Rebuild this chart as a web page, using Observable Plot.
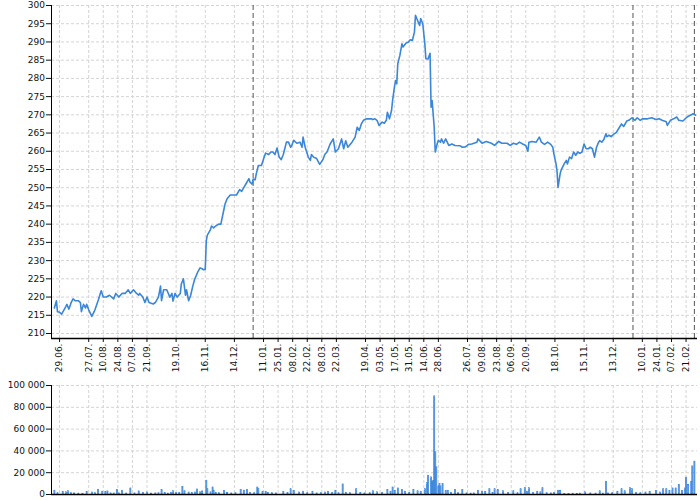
<!DOCTYPE html>
<html><head><meta charset="utf-8">
<script src="https://cdn.jsdelivr.net/npm/d3@7"></script>
<script src="https://cdn.jsdelivr.net/npm/@observablehq/plot@0.6"></script>
<style>
body{margin:0;background:#fff;}
#chart{width:700px;height:500px;position:relative;overflow:hidden;}
svg{display:block;}
</style></head><body><div id="chart"></div>
<script>
const priceDates = [
"2020-06-24","2020-06-26","2020-06-27","2020-06-29","2020-07-01","2020-07-05","2020-07-06","2020-07-08","2020-07-10","2020-07-12",
"2020-07-14","2020-07-17","2020-07-19","2020-07-20","2020-07-22","2020-07-24","2020-07-25","2020-07-27","2020-07-30","2020-08-02",
"2020-08-05","2020-08-08","2020-08-10","2020-08-13","2020-08-16","2020-08-20","2020-08-22","2020-08-25","2020-08-28","2020-08-31",
"2020-09-03","2020-09-05","2020-09-08","2020-09-11","2020-09-13","2020-09-14","2020-09-17","2020-09-19","2020-09-21","2020-09-23",
"2020-09-27","2020-09-29","2020-10-02","2020-10-04","2020-10-05","2020-10-07","2020-10-10","2020-10-13","2020-10-15","2020-10-16",
"2020-10-18","2020-10-20","2020-10-23","2020-10-24","2020-10-26","2020-10-28","2020-10-29","2020-10-31","2020-11-02","2020-11-04",
"2020-11-06","2020-11-09","2020-11-11","2020-11-13","2020-11-14","2020-11-16","2020-11-17","2020-11-18","2020-11-21","2020-11-22",
"2020-11-24","2020-11-26","2020-11-29","2020-12-01","2020-12-03","2020-12-05","2020-12-07","2020-12-10","2020-12-13","2020-12-16",
"2020-12-19","2020-12-21","2020-12-23","2020-12-26","2020-12-28","2020-12-29","2020-12-31",
"2021-01-01","2021-01-03","2021-01-04","2021-01-06","2021-01-09","2021-01-11","2021-01-13","2021-01-16","2021-01-18","2021-01-20",
"2021-01-22","2021-01-24","2021-01-26","2021-01-28","2021-01-30","2021-02-02","2021-02-04","2021-02-06","2021-02-07","2021-02-09",
"2021-02-12","2021-02-15","2021-02-17","2021-02-18","2021-02-20","2021-02-23","2021-02-25","2021-02-26","2021-02-28","2021-03-03",
"2021-03-06","2021-03-09","2021-03-11","2021-03-13","2021-03-16","2021-03-19","2021-03-21","2021-03-24","2021-03-27","2021-03-29",
"2021-03-31","2021-04-02","2021-04-06","2021-04-09","2021-04-11","2021-04-13","2021-04-15","2021-04-17","2021-04-20","2021-04-25",
"2021-04-26","2021-04-28","2021-04-30","2021-05-02","2021-05-05","2021-05-07","2021-05-09","2021-05-10","2021-05-12","2021-05-14",
"2021-05-15","2021-05-17","2021-05-18","2021-05-19","2021-05-20","2021-05-22","2021-05-24","2021-05-25","2021-05-28","2021-05-30",
"2021-06-01","2021-06-03","2021-06-05","2021-06-06","2021-06-08","2021-06-10","2021-06-11","2021-06-13","2021-06-15","2021-06-16",
"2021-06-18","2021-06-20","2021-06-21","2021-06-22","2021-06-24","2021-06-25","2021-06-27","2021-06-28","2021-06-30","2021-07-01",
"2021-07-03","2021-07-05","2021-07-08","2021-07-11","2021-07-14","2021-07-19","2021-07-21","2021-07-24","2021-07-27","2021-07-30",
"2021-08-04","2021-08-05","2021-08-09","2021-08-13","2021-08-18","2021-08-21","2021-08-25","2021-08-28","2021-09-02","2021-09-05",
"2021-09-08","2021-09-11","2021-09-14","2021-09-17","2021-09-20","2021-09-22","2021-09-23","2021-09-26","2021-09-30","2021-10-03",
"2021-10-05","2021-10-08","2021-10-11","2021-10-14","2021-10-16","2021-10-17","2021-10-19","2021-10-20","2021-10-21","2021-10-23",
"2021-10-24","2021-10-27","2021-10-29","2021-10-30","2021-11-01","2021-11-03","2021-11-05","2021-11-07","2021-11-09","2021-11-11",
"2021-11-13","2021-11-15","2021-11-17","2021-11-19","2021-11-21","2021-11-23","2021-11-25","2021-11-27","2021-11-29","2021-11-30",
"2021-12-02","2021-12-04","2021-12-06","2021-12-07","2021-12-09","2021-12-11","2021-12-14","2021-12-16","2021-12-19","2021-12-21",
"2021-12-23","2021-12-26","2021-12-28","2021-12-31",
"2022-01-03","2022-01-05","2022-01-08","2022-01-10","2022-01-15","2022-01-19","2022-01-23","2022-01-26","2022-01-29","2022-02-02",
"2022-02-03","2022-02-06","2022-02-09","2022-02-12","2022-02-14","2022-02-18","2022-02-22","2022-02-25","2022-02-28","2022-03-02"
];
const priceValues = [
217,219,216,215.8,215.3,217.4,218,216.7,218.4,219.5,
219,219,218.5,216,218,217,218,216.5,214.7,216.5,
219,221.7,220,220,220.5,219.5,221,220,221,221,
222,221,222,221,220.5,221,220,218.5,220,218.5,
218.1,218.5,220,223,219,222,222,220,221,218.9,
221,220,221,223.6,225,220.5,222,219,220.5,223,
225,227,228,227.8,227.5,227.6,235.5,237,238.5,239.5,
239,239.5,240,240,242.8,245.5,247,248,248,248,
249.5,249,250,251.5,252.5,251.5,251,
252.4,252.2,253.8,256.1,256.1,257.9,259.5,259.1,259.8,259.8,
259.1,260.9,258.4,257.7,259.1,262.5,262.5,261.1,261.5,263,
262.2,262.5,261.1,263.9,261.1,258.4,257.5,259.1,258.4,258,
256.4,257.7,259.2,259.8,262,263.4,259.8,260.7,263.4,260.7,
262.9,261.1,262.5,263.9,266.6,265.7,267.5,268.5,268.9,268.9,
268.7,268.9,268.5,267.1,268,267.7,268.5,270.7,268.9,271.2,
273.9,278.1,279.4,278.5,284,286.3,289.5,288.6,289.7,289.9,
290.6,290.4,292.7,297.3,295.9,294.5,296.4,295,289.5,285.4,
285.3,286.9,272.1,273.9,266.6,259.8,262.2,263,262.5,263.4,
262.2,263.4,261.6,262,261.6,261.5,261.1,261.2,261.9,262,
262.5,263.4,262.2,262.7,262.2,261.6,262.7,262.2,262.2,261.6,
262.2,261.9,262.5,262,261.6,260,262.5,262.7,262.5,263.9,
262.5,261.9,262.5,261.9,261.1,259.3,256.6,254.7,250.1,253.8,
254.9,256.6,257.5,256.5,258.4,258,259.8,258.9,259.8,259.4,
259.8,262,260.7,260.7,261.1,260.7,258.4,261.1,262.5,262.9,
262.5,263.2,264.8,264,264.4,264,264.8,265.2,266.6,267.5,
266.8,268.3,268.5,269.2,
268.5,269.2,268.5,268.9,268.9,269.2,268.7,268.9,268.5,268.1,
267.1,268.5,268.9,269.4,268.5,268.3,269.4,269.9,270.3,269.9
];
const volumeDates = [
"2020-06-24","2020-06-27","2020-07-02","2020-07-05","2020-07-07","2020-07-10","2020-07-13","2020-07-17","2020-07-21","2020-07-25",
"2020-07-30","2020-08-02","2020-08-05","2020-08-09","2020-08-12","2020-08-14","2020-08-17","2020-08-20","2020-08-23","2020-08-25",
"2020-08-28","2020-09-01","2020-09-05","2020-09-09","2020-09-13","2020-09-17","2020-09-21","2020-09-25","2020-09-29","2020-10-02",
"2020-10-05","2020-10-08","2020-10-11","2020-10-14","2020-10-16","2020-10-19","2020-10-22","2020-10-25","2020-10-27","2020-10-31",
"2020-11-03","2020-11-06","2020-11-08","2020-11-11","2020-11-13","2020-11-17","2020-11-18","2020-11-21","2020-11-23","2020-11-24",
"2020-11-26","2020-11-29","2020-12-04","2020-12-07","2020-12-11","2020-12-15","2020-12-20","2020-12-23","2020-12-26","2020-12-29",
"2021-01-02","2021-01-05","2021-01-06","2021-01-10","2021-01-13","2021-01-15","2021-01-19","2021-01-23","2021-01-30","2021-02-03",
"2021-02-06","2021-02-09","2021-02-14","2021-02-18","2021-02-22","2021-02-27","2021-03-03","2021-03-07","2021-03-11","2021-03-14",
"2021-03-18","2021-03-21","2021-03-24","2021-03-28","2021-03-31","2021-04-04","2021-04-10","2021-04-14","2021-04-18","2021-04-23",
"2021-04-26","2021-04-30","2021-05-05","2021-05-10","2021-05-13","2021-05-15","2021-05-17","2021-05-20","2021-05-24","2021-05-27",
"2021-05-31","2021-06-04","2021-06-08","2021-06-11","2021-06-15","2021-06-17","2021-06-18","2021-06-21","2021-06-22","2021-06-23",
"2021-06-24","2021-06-25","2021-06-26","2021-06-28","2021-06-29","2021-06-30","2021-07-02","2021-07-05","2021-07-07","2021-07-10",
"2021-07-14","2021-07-17","2021-07-21","2021-07-25","2021-07-29","2021-08-01","2021-08-05","2021-08-09","2021-08-12","2021-08-16",
"2021-08-19","2021-08-21","2021-08-24","2021-08-29","2021-09-03","2021-09-08","2021-09-12","2021-09-15","2021-09-19","2021-09-21",
"2021-09-23","2021-09-27","2021-10-01","2021-10-04","2021-10-06","2021-10-10","2021-10-14","2021-10-17","2021-10-21","2021-10-23",
"2021-10-27","2021-10-31","2021-11-04","2021-11-08","2021-11-11","2021-11-16","2021-11-21","2021-11-26","2021-11-30","2021-12-03",
"2021-12-06","2021-12-08","2021-12-12","2021-12-17","2021-12-21","2021-12-24","2021-12-29","2021-12-31","2022-01-04","2022-01-08",
"2022-01-13","2022-01-17","2022-01-23","2022-01-27","2022-01-30","2022-02-02","2022-02-05","2022-02-08","2022-02-11","2022-02-14",
"2022-02-17","2022-02-20","2022-02-21","2022-02-23","2022-02-26","2022-02-27","2022-03-01"
];
const volumeValues = [
3400,1200,2500,2000,3000,1200,1000,800,700,2500,
1800,1200,4300,2500,2500,2800,1000,900,4000,1000,
3400,900,5500,1000,2800,1500,1800,800,1000,1200,
4000,1500,800,1500,3000,1200,1500,7000,3000,1800,
1500,1800,4600,2000,2800,12600,4900,2000,6400,3400,
1500,1200,3400,1500,1000,1200,4000,3500,4000,1500,
1200,6400,4900,2500,2500,1500,1200,1000,2500,1500,
4900,3400,1800,2500,1200,2500,1000,1200,1800,2500,
1500,3400,1200,9200,1500,1200,4900,1500,1000,1200,
3000,2000,1500,4000,2500,6400,3400,5500,4000,2500,
1500,4300,3000,2500,4900,10400,17200,15700,11100,12300,
90000,38700,24900,7400,9500,7400,9500,3400,3400,1500,
4000,1200,4000,1000,800,1000,3400,2500,2500,4900,
1500,4900,4300,3000,1500,3000,1200,4900,5800,2500,
5800,1500,2500,2000,5800,1200,1000,1500,3400,3400,
600,500,700,600,800,2000,1000,800,3000,800,
11700,1000,1200,2500,4900,3000,5800,4900,1500,1200,
1800,2500,3400,1800,4900,4900,3400,5500,5500,8600,
3400,5500,15400,8600,11700,25800,30100
];
const tickDates = [
"2020-06-29","2020-07-27","2020-08-10","2020-08-24","2020-09-07","2020-09-21","2020-10-19","2020-11-16","2020-12-14",
"2021-01-11","2021-01-25","2021-02-08","2021-02-22","2021-03-08","2021-03-22","2021-04-19","2021-05-03","2021-05-17",
"2021-05-31","2021-06-14","2021-06-28","2021-07-26","2021-08-09","2021-08-23","2021-09-06","2021-09-20","2021-10-18",
"2021-11-15","2021-12-13","2022-01-10","2022-01-24","2022-02-07","2022-02-21"
];
const markerDates = ["2021-01-01","2022-01-01","2022-03-01"];
const priceTicks = [210,215,220,225,230,235,240,245,250,255,260,265,270,275,280,285,290,295,300];
const volumeTicks = [0,20000,40000,60000,80000,100000];

const price = priceDates.map((d, i) => ({date: new Date(d), value: priceValues[i]}));
const volume = volumeDates.map((d, i) => ({date: new Date(d), value: volumeValues[i]}));
const ticks = tickDates.map(d => new Date(d));
const markers = markerDates.map(d => new Date(d));
const xDomain = [new Date("2020-06-21T06:00:00Z"), new Date("2022-03-04T00:00:00Z")];
const yBottom = 208.63;

const style = {fontFamily: "'DejaVu Sans', sans-serif", fontSize: "9px", color: "#111", background: "#fff", overflow: "visible"};
const gridStyle = {stroke: "#d4d4d4", strokeOpacity: 1, strokeDasharray: "3,2", strokeWidth: 1};
const fmtDate = d3.utcFormat("%d.%m.");
const fmtVol = d3.formatLocale({decimal: ",", thousands: "\u00a0", grouping: [3], currency: ["", ""]}).format(",d");

const topChart = Plot.plot({
  width: 700, height: 375,
  marginLeft: 51, marginRight: 3, marginTop: 5, marginBottom: 37,
  style,
  x: {type: "utc", domain: xDomain},
  y: {domain: [yBottom, 300]},
  marks: [
    Plot.gridY(priceTicks, gridStyle),
    Plot.gridX(ticks, gridStyle),
    Plot.ruleX(markers, {stroke: "#555", strokeWidth: 1, strokeDasharray: "5,3"}),
    Plot.line(price, {x: "date", y: "value", stroke: "#3a86d8", strokeWidth: 1.6}),
    Plot.axisY(priceTicks, {tickSize: 5, tickPadding: 1.5, label: null}),
    Plot.axisX(ticks, {tickFormat: fmtDate, tickRotate: -90, tickSize: 4, tickPadding: 1, label: null}),
    Plot.ruleX([xDomain[0]], {stroke: "#000", strokeWidth: 1}),
    Plot.ruleY([yBottom], {stroke: "#000", strokeWidth: 1.5})
  ]
});

const bottomChart = Plot.plot({
  width: 700, height: 125,
  marginLeft: 51, marginRight: 3, marginTop: 10, marginBottom: 6,
  style,
  x: {type: "utc", domain: xDomain},
  y: {domain: [0, 100000]},
  marks: [
    Plot.gridY(volumeTicks, gridStyle),
    Plot.gridX(ticks, gridStyle),
    Plot.rectY(volume, {x: "date", y: "value", interval: "day", fill: "#7fb2ea", stroke: "#2f7ed8", strokeWidth: 0.7, inset: 0}),
    Plot.axisY(volumeTicks, {tickSize: 5, tickPadding: 1.5, tickFormat: fmtVol, label: null}),
    Plot.axisX([], {label: null}),
    Plot.ruleX([xDomain[0]], {stroke: "#000", strokeWidth: 1}),
    Plot.ruleY([0], {stroke: "#000", strokeWidth: 1.5})
  ]
});

const root = document.getElementById("chart");
root.append(topChart, bottomChart);
</script>
</body></html>
